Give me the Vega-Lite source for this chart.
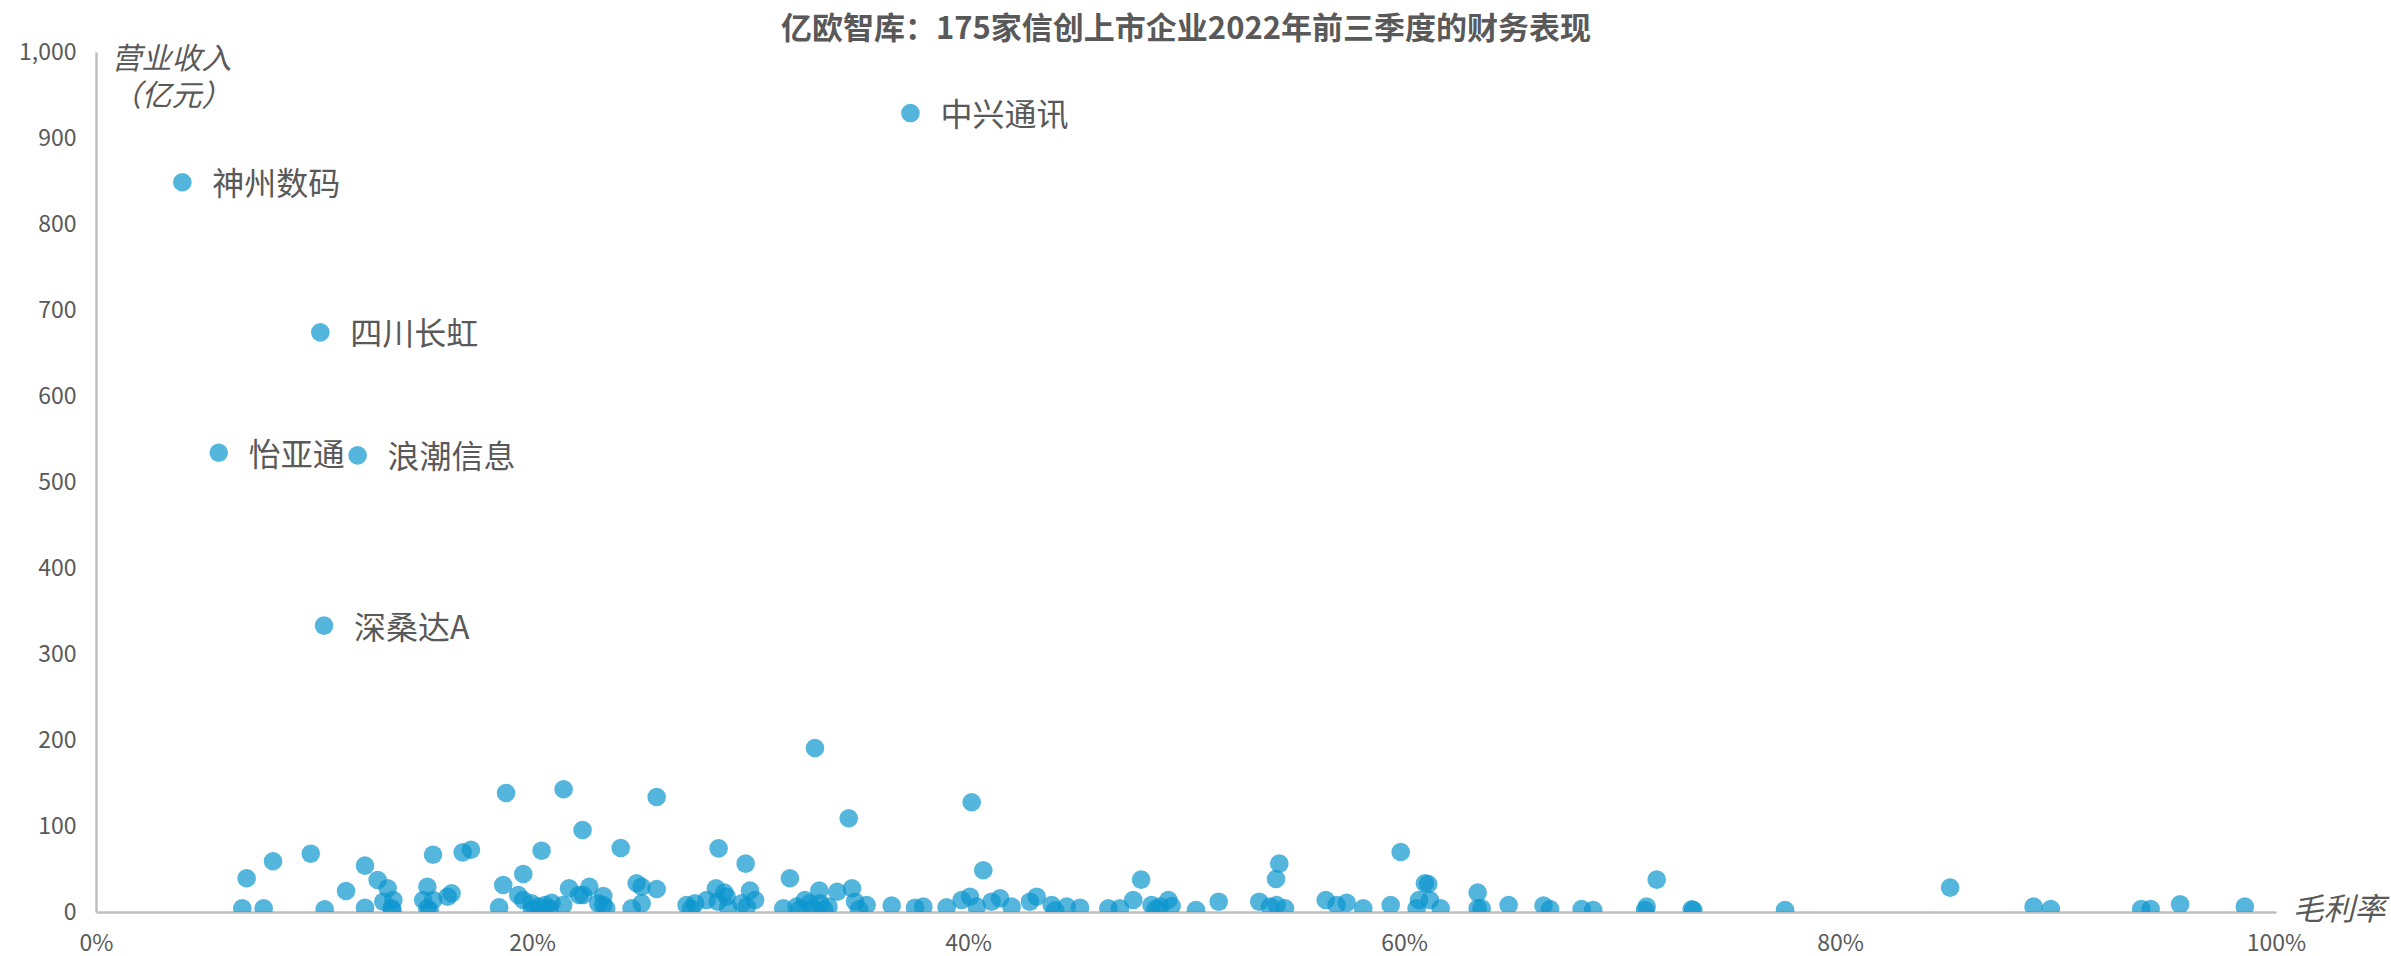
{
  "$schema": "https://vega.github.io/schema/vega-lite/v6.json",
  "width": 2180,
  "height": 860,
  "autosize": {"type": "none"},
  "padding": {"left": 96, "top": 52, "right": 115, "bottom": 44},
  "background": "white",
  "config": {"view": {"stroke": null}, "font": "Noto Sans CJK SC"},
  "title": {
    "text": "亿欧智库：175家信创上市企业2022年前三季度的财务表现",
    "fontSize": 31,
    "fontWeight": "bold",
    "color": "#595959",
    "anchor": "middle",
    "offset": 0,
    "dy": 5,
    "font": "Noto Sans CJK SC"
  },
  "data": {
    "values": [
      {"x": 0.0396, "y": 848.5, "name": "神州数码"},
      {"x": 0.1029, "y": 674, "name": "四川长虹"},
      {"x": 0.0563, "y": 534, "name": "怡亚通"},
      {"x": 0.120, "y": 531, "name": "浪潮信息"},
      {"x": 0.1046, "y": 333, "name": "深桑达A"},
      {"x": 0.3736, "y": 929, "name": "中兴通讯"},
      {"x": 0.0691, "y": 39.2}, {"x": 0.0671, "y": 4.3}, {"x": 0.0769, "y": 4.3}, {"x": 0.0812, "y": 59},
      {"x": 0.0985, "y": 67.8}, {"x": 0.1049, "y": 3.1}, {"x": 0.1147, "y": 24.4}, {"x": 0.1234, "y": 53.9},
      {"x": 0.1234, "y": 5}, {"x": 0.1292, "y": 37.2}, {"x": 0.1338, "y": 27.5}, {"x": 0.1318, "y": 12},
      {"x": 0.1364, "y": 14}, {"x": 0.1356, "y": 4.3}, {"x": 0.152, "y": 29.4}, {"x": 0.1501, "y": 14},
      {"x": 0.152, "y": 4.3}, {"x": 0.1546, "y": 66.6}, {"x": 0.1547, "y": 14}, {"x": 0.1613, "y": 17.8},
      {"x": 0.1631, "y": 21.7}, {"x": 0.1682, "y": 69.3}, {"x": 0.172, "y": 72.4}, {"x": 0.1881, "y": 138.4},
      {"x": 0.1849, "y": 5.4}, {"x": 0.1868, "y": 31.4}, {"x": 0.196, "y": 44.2}, {"x": 0.1937, "y": 19.8},
      {"x": 0.196, "y": 14}, {"x": 0.1998, "y": 10}, {"x": 0.2044, "y": 71.3}, {"x": 0.2029, "y": 6.2},
      {"x": 0.209, "y": 10.8}, {"x": 0.206, "y": 8.1}, {"x": 0.2145, "y": 142.7}, {"x": 0.2143, "y": 8.1},
      {"x": 0.217, "y": 27.5}, {"x": 0.2232, "y": 95.3}, {"x": 0.2216, "y": 19.8}, {"x": 0.2235, "y": 19.8},
      {"x": 0.2263, "y": 29.4}, {"x": 0.2304, "y": 10},
      {"x": 0.2407, "y": 74.4}, {"x": 0.2572, "y": 133.7}, {"x": 0.2327, "y": 18.6}, {"x": 0.2327, "y": 8.1},
      {"x": 0.234, "y": 4.3}, {"x": 0.248, "y": 33.4}, {"x": 0.2503, "y": 29.4}, {"x": 0.2503, "y": 10},
      {"x": 0.2457, "y": 4.3}, {"x": 0.2572, "y": 26.7}, {"x": 0.2709, "y": 8.1}, {"x": 0.2748, "y": 10},
      {"x": 0.2801, "y": 14}, {"x": 0.2856, "y": 74}, {"x": 0.2844, "y": 27.5}, {"x": 0.2882, "y": 22.5},
      {"x": 0.2893, "y": 17.8}, {"x": 0.2852, "y": 12}, {"x": 0.298, "y": 56.2}, {"x": 0.300, "y": 24.8},
      {"x": 0.3023, "y": 14}, {"x": 0.2962, "y": 10}, {"x": 0.2985, "y": 6.2}, {"x": 0.3183, "y": 39.2},
      {"x": 0.3153, "y": 4.3}, {"x": 0.3214, "y": 6.2}, {"x": 0.3252, "y": 14}, {"x": 0.3275, "y": 10},
      {"x": 0.3298, "y": 190.7}, {"x": 0.3318, "y": 24.8}, {"x": 0.3321, "y": 10}, {"x": 0.336, "y": 6.2},
      {"x": 0.340, "y": 23.6}, {"x": 0.3453, "y": 109}, {"x": 0.3468, "y": 27.5}, {"x": 0.3482, "y": 12},
      {"x": 0.3535, "y": 8.1}, {"x": 0.365, "y": 7.4}, {"x": 0.3757, "y": 5}, {"x": 0.3795, "y": 6.2},
      {"x": 0.3902, "y": 5.4}, {"x": 0.4017, "y": 127.6}, {"x": 0.407, "y": 48.5}, {"x": 0.3971, "y": 14},
      {"x": 0.4009, "y": 17.8}, {"x": 0.404, "y": 6.2}, {"x": 0.4108, "y": 12}, {"x": 0.4147, "y": 15.9},
      {"x": 0.420, "y": 6.2}, {"x": 0.4284, "y": 12}, {"x": 0.4315, "y": 17.8},
      {"x": 0.4384, "y": 8.1}, {"x": 0.4453, "y": 6.2}, {"x": 0.4514, "y": 5}, {"x": 0.4644, "y": 4.3},
      {"x": 0.4697, "y": 4.3}, {"x": 0.4758, "y": 14}, {"x": 0.4794, "y": 37.6}, {"x": 0.4842, "y": 8.1},
      {"x": 0.4919, "y": 14}, {"x": 0.4934, "y": 7}, {"x": 0.4881, "y": 6.2}, {"x": 0.5046, "y": 2.3},
      {"x": 0.515, "y": 12}, {"x": 0.5336, "y": 12}, {"x": 0.5416, "y": 8.1}, {"x": 0.5454, "y": 4.3},
      {"x": 0.5428, "y": 56.2}, {"x": 0.5413, "y": 38.4}, {"x": 0.5385, "y": 6.2}, {"x": 0.5641, "y": 14},
      {"x": 0.5691, "y": 8.1}, {"x": 0.5737, "y": 10.8}, {"x": 0.5813, "y": 4.3}, {"x": 0.5939, "y": 8.1},
      {"x": 0.5985, "y": 69.8}, {"x": 0.6096, "y": 33.4}, {"x": 0.6111, "y": 32.6}, {"x": 0.6069, "y": 14},
      {"x": 0.6119, "y": 14}, {"x": 0.6058, "y": 4.3}, {"x": 0.6168, "y": 4.3}, {"x": 0.6338, "y": 22.5},
      {"x": 0.6338, "y": 4.3}, {"x": 0.6356, "y": 4.3}, {"x": 0.648, "y": 8.1}, {"x": 0.664, "y": 7.4},
      {"x": 0.667, "y": 3.5}, {"x": 0.6815, "y": 3.5}, {"x": 0.6868, "y": 2.3}, {"x": 0.7113, "y": 6.2},
      {"x": 0.7106, "y": 2.3}, {"x": 0.7159, "y": 37.6}, {"x": 0.732, "y": 3.1}, {"x": 0.7327, "y": 2.3},
      {"x": 0.7748, "y": 2.3}, {"x": 0.8505, "y": 28.3}, {"x": 0.8888, "y": 6.2}, {"x": 0.8967, "y": 3.5},
      {"x": 0.9382, "y": 3.5}, {"x": 0.9425, "y": 3.5}, {"x": 0.956, "y": 8.9}, {"x": 0.9857, "y": 6.2},
      {"x": 0.323, "y": 3}, {"x": 0.329, "y": 4}, {"x": 0.334, "y": 3}, {"x": 0.290, "y": 5},
      {"x": 0.200, "y": 3}, {"x": 0.208, "y": 4}, {"x": 0.136, "y": 2}, {"x": 0.153, "y": 2},
      {"x": 0.440, "y": 2}, {"x": 0.486, "y": 3}, {"x": 0.273, "y": 4}, {"x": 0.350, "y": 3}
    ]
  },
  "layer": [
    {
      "mark": {"type": "point", "filled": true, "shape": "circle", "size": 346, "color": "#0C95CE", "opacity": 0.7, "clip": true},
      "encoding": {
        "x": {
          "field": "x", "type": "quantitative",
          "scale": {"domain": [0, 1], "nice": false, "zero": true},
          "axis": {
            "values": [0, 0.2, 0.4, 0.6, 0.8, 1],
            "format": ".0%",
            "grid": false, "ticks": false, "labelFlush": false,
            "domainColor": "#BFBFBF", "domainWidth": 2.5,
            "labelColor": "#595959", "labelFontSize": 23, "labelPadding": 20, "labelFont": "Noto Sans CJK SC",
            "title": "毛利率",
            "titleX": 2196, "titleY": -2, "titleAlign": "left", "titleBaseline": "middle",
            "titleFontSize": 31, "titleFontStyle": "italic", "titleFontWeight": "normal",
            "titleColor": "#595959", "titleFont": "Noto Sans CJK SC"
          }
        },
        "y": {
          "field": "y", "type": "quantitative",
          "scale": {"domain": [0, 1000], "nice": false, "zero": true},
          "axis": {
            "values": [0, 100, 200, 300, 400, 500, 600, 700, 800, 900, 1000],
            "format": ",.0f",
            "grid": false, "ticks": false,
            "domainColor": "#BFBFBF", "domainWidth": 2.5,
            "labelColor": "#595959", "labelFontSize": 23, "labelPadding": 20, "labelFont": "Noto Sans CJK SC",
            "title": ["营业收入", "（亿元）"],
            "titleAngle": 0, "titleX": 15, "titleY": -8, "titleAlign": "left", "titleBaseline": "top",
            "titleFontSize": 30, "titleFontStyle": "italic", "titleFontWeight": "normal",
            "titleColor": "#595959", "titleLineHeight": 37, "titleFont": "Noto Sans CJK SC"
          }
        }
      }
    },
    {
      "transform": [{"filter": "isValid(datum.name)"}],
      "mark": {"type": "text", "align": "left", "baseline": "middle", "dx": 30, "dy": 3, "fontSize": 32, "color": "#595959", "font": "Noto Sans CJK SC"},
      "encoding": {
        "x": {"field": "x", "type": "quantitative"},
        "y": {"field": "y", "type": "quantitative"},
        "text": {"field": "name", "type": "nominal"}
      }
    }
  ]
}
